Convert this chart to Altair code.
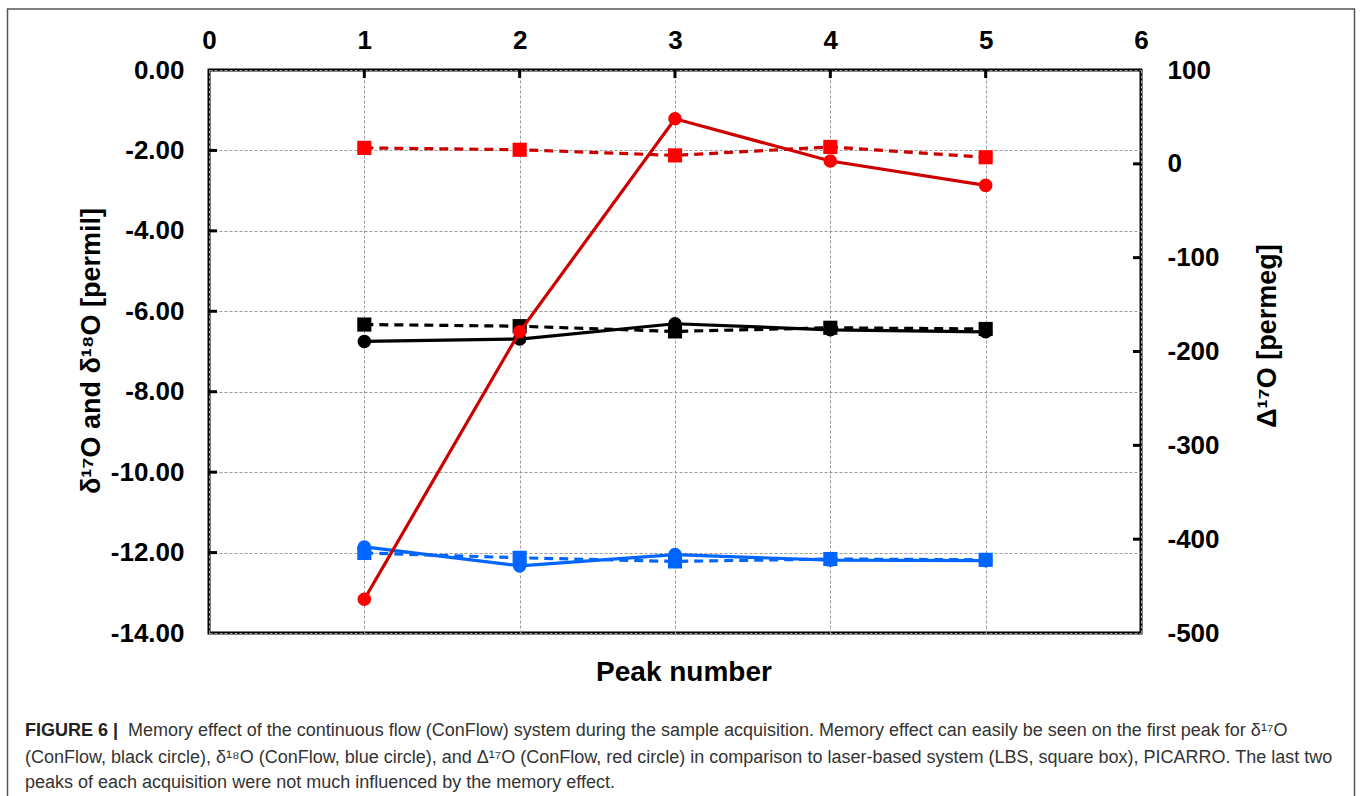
import altair as alt
import pandas as pd

# ---------------- data ----------------
peaks = [1, 2, 3, 4, 5]
d17O_conflow = [-6.75, -6.69, -6.31, -6.46, -6.51]      # black circles
d17O_lbs = [-6.33, -6.37, -6.50, -6.41, -6.44]          # black squares
d18O_conflow = [-11.86, -12.33, -12.05, -12.19, -12.20]  # blue circles
d18O_lbs = [-12.01, -12.13, -12.22, -12.16, -12.18]     # blue squares
D17O_conflow = [-464, -179, 48, 3, -23]                 # red circles (right axis)
D17O_lbs = [17, 15, 9, 18, 7]                           # red squares (right axis)

x_ticks = [0, 1, 2, 3, 4, 5, 6]
left_ticks = [-14, -12, -10, -8, -6, -4, -2, 0]
right_ticks = [-500, -400, -300, -200, -100, 0, 100]

x_title = "Peak number"
left_title = "δ¹⁷O and δ¹⁸O [permil]"
right_title = "Δ¹⁷O [permeg]"
caption_bold = "FIGURE 6 |"
caption_lines = [
    "Memory effect of the continuous flow (ConFlow) system during the sample acquisition. Memory effect can easily be seen on the first peak for δ¹⁷O",
    "(ConFlow, black circle), δ¹⁸O (ConFlow, blue circle), and Δ¹⁷O (ConFlow, red circle) in comparison to laser-based system (LBS, square box), PICARRO. The last two",
    "peaks of each acquisition were not much influenced by the memory effect.",
]

W, H = 932, 563
FONT = "Liberation Sans"

xscale = alt.Scale(domain=[0, 6], nice=False, zero=False)
lscale = alt.Scale(domain=[-14, 0], nice=False, zero=False)
rscale = alt.Scale(domain=[-500, 100], nice=False, zero=False)

grid_kw = dict(gridDash=[3, 2], gridColor="#9a9a9a", gridWidth=1)
lab_kw = dict(labelFont=FONT, labelFontSize=26, labelFontWeight="bold", labelColor="#000",
              labelFlush=False, labelOverlap=False, ticks=False, domain=False, title=None)

xaxis = alt.Axis(orient="top", values=x_ticks, format="d", grid=True, labelPadding=17, **grid_kw, **lab_kw)
laxis = alt.Axis(orient="left", values=left_ticks, grid=True, labelPadding=25,
                 labelExpr="replace(format(datum.value, '.2f'), '\u2212', '-')", **grid_kw, **lab_kw)
raxis = alt.Axis(orient="right", values=right_ticks, grid=False, labelPadding=26,
                 labelExpr="replace(format(datum.value, 'd'), '\u2212', '-')", **lab_kw)

X = alt.X("peak:Q", scale=xscale, axis=xaxis)
YL = alt.Y("v:Q", scale=lscale, axis=laxis)
YR = alt.Y("v:Q", scale=rscale, axis=raxis)


def series(vals, line_color, fill_color, dashed, shape, Y):
    df = pd.DataFrame({"peak": peaks, "v": vals})
    lkw = dict(color=line_color, strokeWidth=3.2)
    if dashed:
        lkw["strokeDash"] = [9, 6]
    line = alt.Chart(df).mark_line(**lkw).encode(x=X, y=Y)
    if shape == "circle":
        pts = alt.Chart(df).mark_circle(color=fill_color, size=185, opacity=1).encode(x=X, y=Y)
    else:
        pts = alt.Chart(df).mark_point(shape="square", filled=True, color=fill_color, size=200,
                                       opacity=1).encode(x=X, y=Y)
    return [line, pts]


# manual inward ticks
top_tick_df = pd.DataFrame({"peak": x_ticks[1:-1]})
top_ticks = alt.Chart(top_tick_df).mark_rule(color="#000", strokeWidth=3).encode(
    x=X, y=alt.value(0), y2=alt.value(8))
lt_df = pd.DataFrame({"v": left_ticks[1:-1]})
l_ticks = alt.Chart(lt_df).mark_rule(color="#000", strokeWidth=3).encode(
    y=YL, x=alt.value(0), x2=alt.value(8))
rt_df = pd.DataFrame({"v": right_ticks[1:-1]})
r_ticks = alt.Chart(rt_df).mark_rule(color="#000", strokeWidth=3).encode(
    y=YR, x=alt.value(W - 8), x2=alt.value(W))

left_layers = []
left_layers += series(d17O_lbs, "#000000", "#000000", True, "square", YL)
left_layers += series(d17O_conflow, "#000000", "#000000", False, "circle", YL)
left_layers += series(d18O_lbs, "#0066FF", "#0066FF", True, "square", YL)
left_layers += series(d18O_conflow, "#0066FF", "#0066FF", False, "circle", YL)
left_layers += [l_ticks, top_ticks]
left = alt.layer(*left_layers)

right_layers = []
right_layers += series(D17O_lbs, "#CC0000", "#FF0000", True, "square", YR)
right_layers += series(D17O_conflow, "#CC0000", "#FF0000", False, "circle", YR)
right_layers += [r_ticks]
right = alt.layer(*right_layers)

one = pd.DataFrame({"a": [0]})


def txt(text, x, y, size, weight="bold", angle=0, align="center", color="#000", font=FONT):
    kw = dict(font=font, fontSize=size, fontWeight=weight, align=align, baseline="middle", color=color)
    if angle:
        kw["angle"] = angle
    return alt.Chart(one).mark_text(**kw).encode(
        x=alt.value(x), y=alt.value(y), text=alt.value(text))


PL, PT = 209, 70
annots = [
    txt(x_title, 684 - PL, 673 - PT, 28),
    txt(left_title, 92 - PL, 351 - PT, 27, angle=270),
    txt(right_title, 1268 - PL, 336 - PT, 27, angle=270),
    txt(caption_bold, 25 - PL, 731 - PT, 18, align="left", color="#222"),
    txt(caption_lines[0], 128 - PL, 731 - PT, 18, weight="normal", align="left", color="#333"),
    txt(caption_lines[1], 25 - PL, 758 - PT, 18, weight="normal", align="left", color="#333"),
    txt(caption_lines[2], 25 - PL, 783 - PT, 18, weight="normal", align="left", color="#333"),
]
border = alt.Chart(one).mark_rect(fill=None, stroke="#555", strokeWidth=1.5).encode(
    x=alt.value(7.5 - PL), x2=alt.value(1354.5 - PL), y=alt.value(9 - PT), y2=alt.value(820 - PT))

chart = alt.layer(left, right, border, *annots).resolve_scale(y="independent").properties(
    width=W, height=H,
    autosize=alt.AutoSizeParams(type="none"),
    padding={"left": PL, "top": PT, "right": 1360 - PL - W, "bottom": 796 - PT - H},
    background="white",
).configure_view(stroke="#000", strokeWidth=3)

chart.save("out.html", embed_options={"renderer": "svg", "actions": False})
